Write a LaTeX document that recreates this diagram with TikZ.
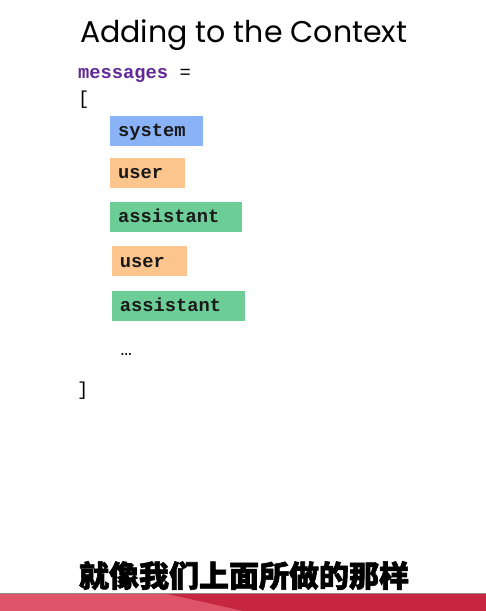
\documentclass[tikz,border=0pt]{standalone}
\usepackage{fontspec}
\newfontfamily\titlefont{Poppins}
\newfontfamily\codefont{Liberation Mono}
\newfontfamily\cjk{Noto Sans CJK SC}[BoldFeatures={FakeBold=2}]
\definecolor{sysblue}{RGB}{138,178,246}
\definecolor{userorange}{RGB}{252,197,142}
\definecolor{asgreen}{RGB}{108,206,150}
\definecolor{codepurple}{RGB}{98,40,150}
\definecolor{bandlight}{RGB}{224,84,106}
\definecolor{banddark}{RGB}{198,38,64}
\tikzset{
  msgbox/.style={anchor=north west, inner xsep=8pt, inner ysep=0pt,
    minimum height=30pt, text height=14pt, text depth=2pt, align=left,
    font=\codefont\bfseries\fontsize{18.75}{20}\selectfont, text=black!90},
  codetext/.style={inner sep=0pt, anchor=base west,
    font=\codefont\fontsize{18.75}{20}\selectfont},
}
\begin{document}
\begin{tikzpicture}[x=1pt,y=-1pt]
\useasboundingbox (0,0) rectangle (486,611);
\fill[white] (0,0) rectangle (486,611);
% title
\node[inner sep=0pt, anchor=base west, font=\titlefont\fontsize{30}{34}\selectfont] (title) at (80,42) {Adding to the Context};
% code
\node[codetext, font=\codefont\bfseries\fontsize{18.75}{20}\selectfont, text=codepurple] (msgs) at (78,78) {messages};
\node[codetext] (eq) at (179.3,78) {=};
\node[codetext] (lb) at (78,104) {[};
\node[msgbox, fill=sysblue, text width=77pt] (system) at (110,115.7) {system};
\node[msgbox, fill=userorange, text width=58.5pt] (user1) at (110,157.3) {user};
\node[msgbox, fill=asgreen, text width=116pt] (asst1) at (110,201.7) {assistant};
\node[msgbox, fill=userorange, text width=59pt] (user2) at (111.7,246) {user};
\node[msgbox, fill=asgreen, text width=116.6pt] (asst2) at (111.7,290.3) {assistant};
\node[codetext] (dots) at (120.5,355) {…};
\node[codetext] (rb) at (77,395) {]};
% bottom band
\fill[banddark] (0,593) rectangle (486,611);
\fill[bandlight] (0,593) -- (163,593) -- (243,611) -- (0,611) -- cycle;
\draw[black!45, line width=0.8pt] (0,593) -- (486,593);
% caption
\node[inner sep=0pt, anchor=base, font=\cjk\bfseries\fontsize{30}{32}\selectfont] (caption) at (244,587) {就像我们上面所做的那样};
\end{tikzpicture}
\end{document}
